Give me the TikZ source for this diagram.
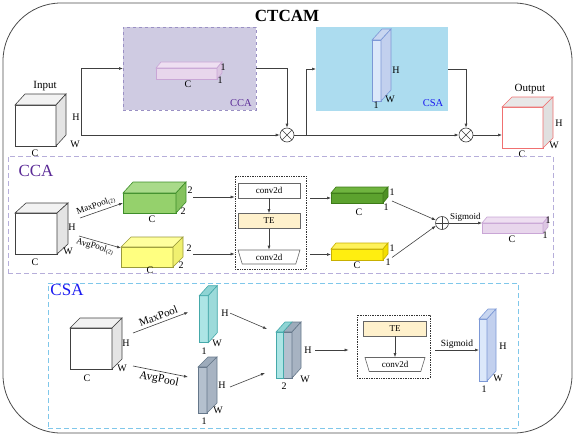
\documentclass[tikz,border=0pt]{standalone}
\usepackage{fontspec}
\setmainfont{Liberation Serif}
\usetikzlibrary{arrows.meta,shapes.geometric,calc}
\definecolor{wcubeF}{HTML}{FFFFFF}\definecolor{wcubeT}{HTML}{F2F2F2}\definecolor{wcubeS}{HTML}{E4E4E4}\definecolor{wcubeL}{HTML}{404040}
\definecolor{rcubeF}{HTML}{FFFFFF}\definecolor{rcubeT}{HTML}{E8E8E8}\definecolor{rcubeS}{HTML}{E0E0E0}\definecolor{rcubeL}{HTML}{F07070}
\definecolor{pinkF}{HTML}{E8D6EC}\definecolor{pinkT}{HTML}{EEDFF1}\definecolor{pinkS}{HTML}{DCC6E2}\definecolor{pinkL}{HTML}{C9A6D6}
\definecolor{skyF}{HTML}{DCE8FA}\definecolor{skyT}{HTML}{C8D6F0}\definecolor{skyS}{HTML}{C2D0EE}\definecolor{skyL}{HTML}{7C98D6}
\definecolor{lgreenF}{HTML}{95D16C}\definecolor{lgreenT}{HTML}{A9DA8A}\definecolor{lgreenS}{HTML}{84C25D}\definecolor{lgreenL}{HTML}{3E8E2A}
\definecolor{lyellowF}{HTML}{FFFF80}\definecolor{lyellowT}{HTML}{FFFF9E}\definecolor{lyellowS}{HTML}{F0F070}\definecolor{lyellowL}{HTML}{9A9A3A}
\definecolor{dgreenF}{HTML}{5CA22E}\definecolor{dgreenT}{HTML}{6FB43F}\definecolor{dgreenS}{HTML}{4E9024}\definecolor{dgreenL}{HTML}{3D7A18}
\definecolor{dyellowF}{HTML}{FFEE10}\definecolor{dyellowT}{HTML}{FFF25A}\definecolor{dyellowS}{HTML}{F2DE00}\definecolor{dyellowL}{HTML}{C8B000}
\definecolor{aquaF}{HTML}{ACE5E5}\definecolor{aquaT}{HTML}{8FD4D4}\definecolor{aquaS}{HTML}{9CDADA}\definecolor{aquaL}{HTML}{45A9AA}
\definecolor{slateF}{HTML}{B4C0CE}\definecolor{slateT}{HTML}{9DABBB}\definecolor{slateS}{HTML}{A7B3C2}\definecolor{slateL}{HTML}{65778A}
\definecolor{ccaregF}{HTML}{CFCBE2}\definecolor{ccaregL}{HTML}{9A90C4}\definecolor{csaregF}{HTML}{ACDCEF}
\definecolor{ccapanL}{HTML}{B6AEDA}\definecolor{csapanL}{HTML}{7FC7EA}
\definecolor{ccatext}{HTML}{5A2A96}\definecolor{csatext}{HTML}{1A1AF0}\definecolor{teF}{HTML}{FFF1CC}
\tikzset{
	face/.style={inner sep=0pt,outer sep=0pt,line width=0.6pt},
	lbl/.style={inner sep=0pt,font=\fontsize{10}{11}\selectfont},
	tag/.style={inner sep=0pt,font=\fontsize{10.5}{12}\selectfont},
	head/.style={inner sep=0pt,font=\fontsize{17}{20}\selectfont},
	conn/.style={draw=black!75,line width=0.6pt,-{Latex[length=4pt,width=3pt]}},
	panel/.style={draw,dash pattern=on 5pt off 3pt,line width=1pt,inner sep=0pt,outer sep=0pt},
	dotbox/.style={draw=black!80,densely dotted,line width=0.7pt,inner sep=0pt},
	convbox/.style={draw=black!60,fill=white,line width=0.6pt,minimum width=62pt,minimum height=15pt,inner sep=0pt,font=\fontsize{9}{10}\selectfont},
	tebox/.style={convbox,fill=teF},
	trapbox/.style={trapezium,shape border rotate=180,trapezium angle=60,trapezium stretches body,draw=black!60,line width=0.6pt,minimum width=62pt,minimum height=14pt,inner xsep=1pt,inner ysep=0.5pt,font=\fontsize{9}{10}\selectfont},
	mul/.style={circle,draw=black!75,line width=0.6pt,minimum size=14pt,inner sep=0pt,
		path picture={\draw[line width=0.6pt,black!75] (path picture bounding box.north west) -- (path picture bounding box.south east) (path picture bounding box.south west) -- (path picture bounding box.north east);}},
	add/.style={circle,draw=black!75,line width=0.6pt,minimum size=13pt,inner sep=0pt,
		path picture={\draw[line width=0.6pt,black!75] (path picture bounding box.north) -- (path picture bounding box.south) (path picture bounding box.west) -- (path picture bounding box.east);}}
}
\newcommand{\cuboid}[7]{%
	\node[face,draw=#7L,fill=#7F,minimum width=#3pt,minimum height=#4pt] (#1) at #2 {};
	\filldraw[face,draw=#7L,fill=#7T] (#1.north west) -- ++(#5,#6) -- ++(#3,0) -- (#1.north east) -- cycle;
	\filldraw[face,draw=#7L,fill=#7S] (#1.north east) -- ++(#5,#6) -- ++(0,#4) -- (#1.south east) -- cycle;
}

\begin{document}
\begin{tikzpicture}[x=1pt,y=-1pt]
	\useasboundingbox (0,0) rectangle (575,436);
	\draw[black!70,line width=0.8pt,rounded corners=58pt] (3,3) rectangle (572,433);
	\node[head,font=\fontsize{17}{20}\selectfont\bfseries] (title) at (287,16) {CTCAM};

	\node[face,draw=ccaregL,fill=ccaregF,dashed,minimum width=133pt,minimum height=83pt] (ccabox) at (189.5,68.5) {};
	\node[face,fill=csaregF,minimum width=132pt,minimum height=84pt] (csabox) at (382,69) {};
	\node[tag,text=ccatext] (ccatag) at (241,103) {CCA};
	\node[tag,text=csatext] (csatag) at (433,103) {CSA};

	\cuboid{incube}{(35.5,125.5)}{41}{41}{10}{-11}{wcube}
	\cuboid{pinkbar}{(186.5,73.5)}{61}{11}{5}{-6}{pink}
	\cuboid{csabar}{(376.5,70.5)}{9}{61}{10}{-11}{sky}
	\cuboid{outcube}{(522.5,127.5)}{41}{41}{10}{-10}{rcube}

	\node[lbl,font=\fontsize{11}{12}\selectfont] (inlbl) at (45,86) {Input};
	\node[lbl] (inH) at (76,117) {H};
	\node[lbl] (inW) at (75,144) {W};
	\node[lbl] (inC) at (35,153) {C};
	\node[lbl] (pinkA) at (223,67) {1};
	\node[lbl] (pinkB) at (220,80) {1};
	\node[lbl] (pinkC) at (188,84) {C};
	\node[lbl] (csaH) at (396,70) {H};
	\node[lbl] (csaW) at (390,99) {W};
	\node[lbl] (csaA) at (376,105) {1};
	\node[lbl,font=\fontsize{11}{12}\selectfont] (outlbl) at (530,89) {Output};
	\node[lbl] (outH) at (559,123) {H};
	\node[lbl] (outW) at (554,145) {W};
	\node[lbl] (outC) at (522,154) {C};

	\coordinate (split) at (81,135);
	\coordinate (splitb) at (306,135);
	\node[mul] (mula) at (287,135) {};
	\node[mul] (mulb) at (466,135) {};
	\draw[conn] (split) |- (ccabox.west);
	\draw[conn] (split) -- (mula.west);
	\draw[conn] (ccabox.east) -| (mula.north);
	\draw[conn] (splitb) |- (csabox.west);
	\draw[conn] (mula.east) -- (mulb.west);
	\draw[conn] (csabox.east) -| (mulb.north);
	\draw[conn] (mulb.east) -- (mulb.east -| outcube.west);

	\node[panel,draw=ccapanL,minimum width=545pt,minimum height=117pt] (ccapanel) at (280.5,214.5) {};
	\node[head,text=ccatext] (ccahead) at (36,171) {CCA};

	\cuboid{ccacube}{(36,233.5)}{42}{41}{11}{-10}{wcube}
	\cuboid{mpbox}{(149.5,203)}{53}{20}{10}{-11}{lgreen}
	\cuboid{apbox}{(147,257)}{52}{20}{10}{-10}{lyellow}
	\cuboid{mpvec}{(357,198)}{52}{10}{5}{-6}{dgreen}
	\cuboid{apvec}{(357,254.5)}{52}{11}{5}{-6}{dyellow}
	\cuboid{ccaout}{(512.5,228)}{61}{10}{5}{-6}{pink}

	\node[lbl] (ccaH) at (72,227) {H};
	\node[lbl] (ccaW) at (68,251) {W};
	\node[lbl] (ccaC) at (35,262) {C};
	\node[lbl] (mpA) at (190,190) {2};
	\node[lbl] (mpB) at (183,211) {2};
	\node[lbl] (mpC) at (152,219) {C};
	\node[lbl] (apA) at (189,248) {2};
	\node[lbl] (apB) at (181,265) {2};
	\node[lbl] (apC) at (150,270) {C};
	\node[lbl] (mvA) at (392,192) {1};
	\node[lbl] (mvB) at (386,207) {1};
	\node[lbl] (mvC) at (359,212) {C};
	\node[lbl] (avA) at (392,248) {1};
	\node[lbl] (avB) at (388,262) {1};
	\node[lbl] (avC) at (357,265) {C};
	\node[lbl] (coA) at (548,220) {1};
	\node[lbl] (coB) at (545,235) {1};
	\node[lbl] (coC) at (512,239) {C};

	\coordinate (mpstart) at (80,218);
	\coordinate (apstart) at (79,236);
	\draw[conn] (mpstart) -- (mpbox.west) node[pos=0.42,sloped,above,inner sep=1.5pt,font=\fontsize{9}{10}\selectfont] (mplbl) {MaxPool\textsubscript{(2)}};
	\draw[conn] (apstart) -- ($(apbox.north west)+(0,1)$) node[pos=0.42,sloped,below,inner sep=1.5pt,font=\fontsize{9}{10}\selectfont] (aplbl) {AvgPool\textsubscript{(2)}};

	\node[dotbox,minimum width=71pt,minimum height=93pt] (ccaconv) at (270.5,222.5) {};
	\node[convbox] (conva) at (269,190.5) {conv2d};
	\node[tebox] (tea) at (269,221) {TE};
	\node[trapbox] (convb) at (269,257) {conv2d};
	\draw[conn] (conva) -- (tea);
	\draw[conn] (tea) -- (convb);

	\coordinate (mpout) at (193,197);
	\coordinate (apout) at (193,254);
	\draw[conn] (mpout) -- (mpout -| ccaconv.west);
	\draw[conn] (apout) -- (apout -| ccaconv.west);
	\draw[conn] ($(ccaconv.east |- mpvec.west)+(4,0)$) -- (mpvec.west);
	\draw[conn] ($(ccaconv.east |- apvec.west)+(4,0)$) -- (apvec.west);

	\node[add] (sum) at (442,223) {};
	\draw[conn] ($(mpvec.east)+(9,3)$) -- (sum.155);
	\draw[conn] ($(apvec.east)+(9,3)$) -- (sum.205);
	\draw[conn] (sum.east) -- (sum.east -| ccaout.west) node[midway,above,inner sep=1.5pt,font=\fontsize{9}{10}\selectfont] (sigA) {Sigmoid};

	\node[panel,draw=csapanL,minimum width=470pt,minimum height=145pt] (csapanel) at (283,355.5) {};
	\node[head,text=csatext] (csahead) at (67,290) {CSA};

	\cuboid{csacube}{(91,348.5)}{42}{41}{10}{-10}{wcube}
	\cuboid{mpmap}{(203.75,319.2)}{9}{47}{9}{-10}{aqua}
	\cuboid{apmap}{(202.5,390)}{9}{46}{10}{-10}{slate}
	\cuboid{catmap}{(287.5,355)}{9}{46}{9}{-10}{slate}
	\node[face,draw=aquaL,fill=aquaF,minimum width=7pt,minimum height=46pt] (catfront) at (279.5,355) {};
	\filldraw[face,draw=aquaL,fill=aquaT] (catfront.north west) -- ++(9,-10) -- ++(7,0) -- (catfront.north east) -- cycle;
	\cuboid{csaout}{(483,350)}{8}{62}{9}{-10}{sky}

	\node[lbl] (scH) at (126,343) {H};
	\node[lbl] (scW) at (122,368) {W};
	\node[lbl] (scC) at (87,378) {C};
	\node[lbl] (mmH) at (225,313) {H};
	\node[lbl] (mmW) at (217,343) {W};
	\node[lbl] (mmA) at (204,351) {1};
	\node[lbl] (amH) at (222,385) {H};
	\node[lbl] (amW) at (218,410) {W};
	\node[lbl] (amA) at (204,421) {1};
	\node[lbl] (ctH) at (308,350) {H};
	\node[lbl] (ctW) at (305,379) {W};
	\node[lbl] (ctA) at (284,386) {2};
	\node[lbl] (soH) at (503,346) {H};
	\node[lbl] (soW) at (498,378) {W};
	\node[lbl] (soA) at (484,389) {1};

	\coordinate (mpstartb) at (133,333);
	\coordinate (apstartb) at (133,366);
	\draw[conn] (mpstartb) -- ($(mpmap.west)+(-11,-7)$) node[midway,sloped,above,inner sep=2.5pt,font=\fontsize{11}{12}\selectfont] (mplblb) {MaxPool};
	\draw[conn] (apstartb) -- ($(apmap.west)+(-10,-13)$) node[midway,sloped,below,inner sep=2.5pt,font=\fontsize{11.5}{12}\selectfont] (aplblb) {AvgPool};
	\draw[conn] ($(mpmap.east)+(22,-6)$) -- ($(catfront.west)+(-9,-26)$);
	\draw[conn] ($(apmap.east)+(23,-3)$) -- ($(catfront.west)+(-11,18)$);

	\node[dotbox,minimum width=73pt,minimum height=63pt] (csaconv) at (393.5,346.5) {};
	\node[tebox,minimum width=63pt] (teb) at (395,328.5) {TE};
	\node[trapbox,minimum width=60pt] (convc) at (395,364.5) {conv2d};
	\draw[conn] (teb) -- (convc);

	\coordinate (catout) at (315,350);
	\coordinate (sigstart) at (435,350);
	\draw[conn] (catout) -- ($(catout -| csaconv.west)+(-8,0)$);
	\draw[conn] (sigstart) -- (sigstart -| csaout.west) node[midway,above,inner sep=1.5pt,font=\fontsize{9.5}{10}\selectfont] (sigB) {Sigmoid};
\end{tikzpicture}
\end{document}
